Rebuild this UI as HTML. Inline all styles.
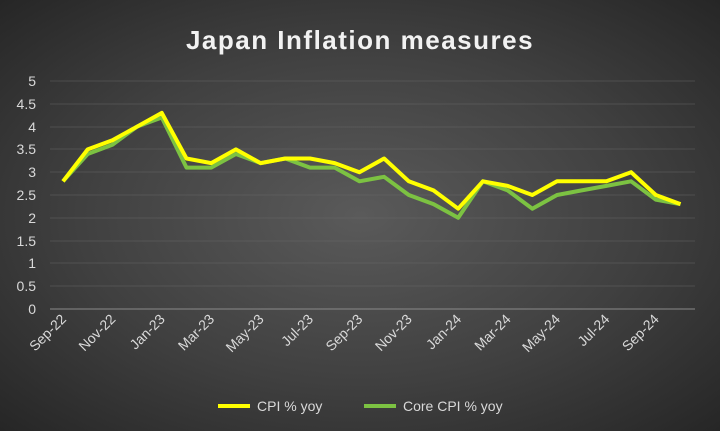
<!DOCTYPE html>
<html><head><style>
html,body{margin:0;padding:0;}
body{width:720px;height:431px;overflow:hidden;background:radial-gradient(ellipse at center,#5a5a5a 0%,#404040 55%,#262626 100%);font-family:"Liberation Sans",sans-serif;}
</style></head><body>
<svg width="720" height="431" xmlns="http://www.w3.org/2000/svg" style="position:absolute;left:0;top:0">
<text x="360" y="49" text-anchor="middle" fill="#f2f2f2" font-size="26" font-weight="bold" letter-spacing="1.5">Japan Inflation measures</text>
<g stroke="#6a6a6a" stroke-width="0.8" opacity="0.6">
<line x1="50" x2="695" y1="81" y2="81"/><line x1="50" x2="695" y1="104" y2="104"/><line x1="50" x2="695" y1="127" y2="127"/><line x1="50" x2="695" y1="149" y2="149"/><line x1="50" x2="695" y1="172" y2="172"/><line x1="50" x2="695" y1="195" y2="195"/><line x1="50" x2="695" y1="218" y2="218"/><line x1="50" x2="695" y1="241" y2="241"/><line x1="50" x2="695" y1="263" y2="263"/><line x1="50" x2="695" y1="286" y2="286"/>
</g>
<line x1="50" x2="695" y1="309" y2="309" stroke="#8a8a8a" stroke-width="1"/>
<g fill="#d9d9d9" font-size="14" text-anchor="end">
<text x="36" y="86">5</text><text x="36" y="109">4.5</text><text x="36" y="132">4</text><text x="36" y="154">3.5</text><text x="36" y="177">3</text><text x="36" y="200">2.5</text><text x="36" y="223">2</text><text x="36" y="246">1.5</text><text x="36" y="268">1</text><text x="36" y="291">0.5</text><text x="36" y="314">0</text>
</g>
<g id="xl" fill="#d9d9d9" font-size="14" text-anchor="end"></g>
<polyline id="core" fill="none" stroke="#7cc242" stroke-width="4" stroke-linejoin="round"/>
<polyline id="cpi" fill="none" stroke="#ffff00" stroke-width="4" stroke-linejoin="round"/>
<line x1="218" x2="250" y1="406" y2="406" stroke="#ffff00" stroke-width="4"/>
<text x="257" y="411" fill="#d9d9d9" font-size="14">CPI % yoy</text>
<line x1="364" x2="396" y1="406" y2="406" stroke="#7cc242" stroke-width="4"/>
<text x="403" y="411" fill="#d9d9d9" font-size="14">Core CPI % yoy</text>
</svg>
<script>
var cpi=[2.8,3.5,3.7,4.0,4.3,3.3,3.2,3.5,3.2,3.3,3.3,3.2,3.0,3.3,2.8,2.6,2.2,2.8,2.7,2.5,2.8,2.8,2.8,3.0,2.5,2.3];
var core=[2.8,3.4,3.6,4.0,4.2,3.1,3.1,3.4,3.2,3.3,3.1,3.1,2.8,2.9,2.5,2.3,2.0,2.8,2.6,2.2,2.5,2.6,2.7,2.8,2.4,2.3];
var x0=63,dx=24.7;
function pts(a){return a.map(function(v,i){return (x0+i*dx).toFixed(1)+","+(309-v*45.6).toFixed(1)}).join(" ");}
document.getElementById("cpi").setAttribute("points",pts(cpi));
document.getElementById("core").setAttribute("points",pts(core));
var lab=["Sep-22","Nov-22","Jan-23","Mar-23","May-23","Jul-23","Sep-23","Nov-23","Jan-24","Mar-24","May-24","Jul-24","Sep-24"];
var g=document.getElementById("xl"),s="";
lab.forEach(function(l,k){var x=x0+k*2*dx+4,y=320;s+='<text x="'+x+'" y="'+y+'" transform="rotate(-45 '+x+' '+y+')">'+l+'</text>';});
g.innerHTML=s;
</script>
</body></html>
